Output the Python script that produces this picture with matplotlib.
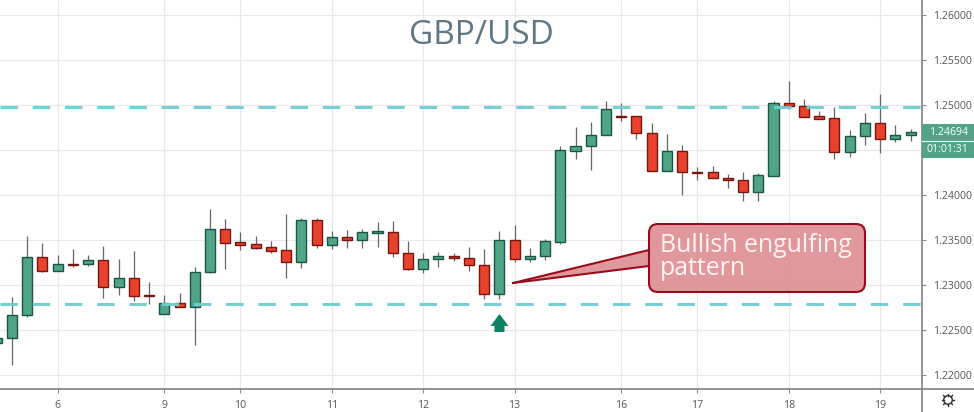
from matplotlib.colors import to_rgba
from matplotlib.lines import Line2D
from matplotlib.patches import Circle, FancyBboxPatch, Polygon, Rectangle
from matplotlib.transforms import Affine2D
import matplotlib.pyplot as plt
import numpy as np

plt.rcParams["font.family"] = ["Open Sans", "DejaVu Sans"]

WIDTH, HEIGHT = 974, 412

# first candle sits off the left edge of the chart
opens = [
    1.22356, 1.22408, 1.22667, 1.23308, 1.23159, 1.23232, 1.23230, 1.23278, 1.22981, 1.23074,
    1.22889, 1.22678, 1.22800, 1.22759, 1.23144, 1.23626, 1.23474, 1.23452, 1.23419, 1.23386,
    1.23252, 1.23722, 1.23448, 1.23530, 1.23503, 1.23578, 1.23592, 1.23352, 1.23178, 1.23286,
    1.23322, 1.23300, 1.23219, 1.22897, 1.23497, 1.23286, 1.23319, 1.23481, 1.24492, 1.24544,
    1.24663, 1.24874, 1.24874, 1.24686, 1.24263, 1.24486, 1.24256, 1.24252, 1.24189, 1.24167,
    1.24037, 1.24214, 1.25026, 1.24992, 1.24874, 1.24852, 1.24481, 1.24652, 1.24797, 1.24622,
    1.24663,
]
highs = [
    1.22411, 1.22863, 1.23544, 1.23463, 1.23333, 1.23400, 1.23337, 1.23433, 1.23292, 1.23378,
    1.23030, 1.22889, 1.22911, 1.23203, 1.23841, 1.23733, 1.23586, 1.23544, 1.23489, 1.23792,
    1.23748, 1.23748, 1.23600, 1.23611, 1.23619, 1.23703, 1.23714, 1.23489, 1.23359, 1.23367,
    1.23352, 1.23422, 1.23400, 1.23597, 1.23670, 1.23408, 1.23508, 1.24548, 1.24756, 1.24811,
    1.25048, 1.25019, 1.24874, 1.24797, 1.24678, 1.24552, 1.24311, 1.24322, 1.24233, 1.24252,
    1.24241, 1.25048, 1.25267, 1.25070, 1.24930, 1.24974, 1.24722, 1.24911, 1.25126, 1.24778,
    1.24730,
]
lows = [
    1.22356, 1.22111, 1.22648, 1.23148, 1.23159, 1.23197, 1.23214, 1.22856, 1.22889, 1.22826,
    1.22792, 1.22678, 1.22759, 1.22337, 1.23130, 1.23174, 1.23392, 1.23397, 1.23359, 1.23078,
    1.23192, 1.23414, 1.23400, 1.23411, 1.23408, 1.23426, 1.23314, 1.23167, 1.23133, 1.23203,
    1.23267, 1.23156, 1.22841, 1.22848, 1.23259, 1.23259, 1.23281, 1.23452, 1.24400, 1.24274,
    1.24663, 1.24822, 1.24626, 1.24263, 1.24263, 1.24000, 1.24170, 1.24186, 1.24074, 1.23933,
    1.23933, 1.24214, 1.24956, 1.24870, 1.24848, 1.24400, 1.24422, 1.24552, 1.24470, 1.24592,
    1.24603,
]
closes = [
    1.22411, 1.22670, 1.23308, 1.23159, 1.23233, 1.23226, 1.23278, 1.22981, 1.23074, 1.22881,
    1.22881, 1.22800, 1.22759, 1.23148, 1.23626, 1.23470, 1.23448, 1.23414, 1.23381, 1.23252,
    1.23722, 1.23448, 1.23530, 1.23500, 1.23586, 1.23597, 1.23352, 1.23178, 1.23289, 1.23319,
    1.23297, 1.23219, 1.22897, 1.23497, 1.23286, 1.23322, 1.23486, 1.24497, 1.24548, 1.24663,
    1.24952, 1.24867, 1.24686, 1.24263, 1.24486, 1.24252, 1.24248, 1.24186, 1.24163, 1.24033,
    1.24219, 1.25026, 1.24992, 1.24870, 1.24848, 1.24481, 1.24656, 1.24797, 1.24619, 1.24667,
    1.24697,
]

level_prices = [1.24983, 1.22789]
price_ticks = [1.22, 1.225, 1.23, 1.235, 1.24, 1.245, 1.25, 1.255, 1.26]
# 1.245 is hidden behind the last price tag
price_labels = ["1.22000", "1.22500", "1.23000", "1.23500", "1.24000", "", "1.25000", "1.25500", "1.26000"]
day_positions = [3, 10, 15, 21, 27, 33, 40, 45, 51, 57]
day_labels = ["6", "9", "10", "11", "12", "13", "16", "17", "18", "19"]
last_price = "1.24694"
countdown = "01:01:31"

GREEN = "#4fa585"
GREEN_EDGE = "#1a5645"
RED = "#e8412c"
RED_EDGE = "#741712"
WICK = "#666666"
AXIS = "#8a8a8a"
GRID = "#e8e8e8"
LABEL = "#555555"
LEVEL = "#6fcdd2"
CALLOUT = to_rgba("#dc8a8f", 0.88)
CALLOUT_EDGE = "#990c1b"

fig = plt.figure(figsize=(WIDTH / 100, HEIGHT / 100), dpi=100)
ax = fig.add_axes([0, 1 - 389 / HEIGHT, 922 / WIDTH, 389 / HEIGHT])

# reference pixels, origin top left, for everything stuck on top of the chart
px = Affine2D().scale(1 / WIDTH, -1 / HEIGHT).translate(0, 1) + fig.transFigure

x = np.arange(-1, len(opens) - 1)
o = np.array(opens)
c = np.array(closes)
up = c >= o

ax.vlines(x, lows, highs, color=WICK, linewidth=0.9, zorder=2)
ax.bar(x, np.abs(c - o), bottom=np.minimum(o, c), width=0.66,
       color=np.where(up, GREEN, RED), edgecolor=np.where(up, GREEN_EDGE, RED_EDGE),
       linewidth=1.0, zorder=3)

for price in level_prices:
    ax.plot([-0.788, 59.75], [price, price], color=LEVEL, linewidth=2.2, alpha=0.95,
            dashes=(5.7, 4.85), dash_capstyle="butt", zorder=4)

ax.set_xlim(-0.788, 59.75)
ax.set_ylim(1.25 - 284 / 9000, 1.25 + 105 / 9000)
ax.set_xticks(day_positions, day_labels)
ax.set_yticks(price_ticks, price_labels)
ax.yaxis.tick_right()
ax.grid(color=GRID, linewidth=0.9, zorder=0)
ax.set_axisbelow(True)
ax.tick_params(axis="both", length=3, width=0.8, color=AXIS, labelcolor=LABEL, labelsize=7.6)
ax.tick_params(axis="x", pad=5)
ax.tick_params(axis="y", pad=5)
for side in ["top", "left"]:
    ax.spines[side].set_visible(False)
for side in ["right", "bottom"]:
    ax.spines[side].set_color(AXIS)
    ax.spines[side].set_linewidth(1.3)

# axis lines run on through the corner to the figure edges
fig.add_artist(Line2D([922, 922], [389, 412], color=AXIS, linewidth=1.3, transform=px))
fig.add_artist(Line2D([922, 974], [389, 389], color=AXIS, linewidth=1.3, transform=px))

# last price tag
fig.add_artist(Rectangle((922, 124), 52, 34, facecolor=GREEN, edgecolor="none", transform=px, zorder=5))
fig.add_artist(Line2D([922, 974], [141, 141], color="white", linewidth=0.8, transform=px, zorder=6))
fig.text(949, 132.5, last_price, color="white", fontsize=7.6, ha="center", va="center", transform=px, zorder=7)
fig.text(947, 149.5, countdown, color="white", fontsize=7.6, ha="center", va="center", transform=px, zorder=7)

fig.text(481, 35, "GBP/USD", color="#5f7786", fontsize=24, ha="center", va="center", transform=px)

# callout: pointer fill first, then the box, then the two pointer edges
fig.add_artist(Polygon([(513, 283), (649, 250), (649, 266)], closed=True, facecolor=CALLOUT,
                       edgecolor="none", transform=px, zorder=5))
fig.add_artist(FancyBboxPatch((657, 232), 200, 52, boxstyle="round,pad=8,rounding_size=9",
                              facecolor=CALLOUT, edgecolor=CALLOUT_EDGE, linewidth=1.5,
                              transform=px, zorder=5))
fig.add_artist(Line2D([513, 649], [283, 250], color=CALLOUT_EDGE, linewidth=1.5, transform=px, zorder=6))
fig.add_artist(Line2D([513, 649], [283, 266], color=CALLOUT_EDGE, linewidth=1.5, transform=px, zorder=6))
fig.text(660, 245.5, "Bullish engulfing", color="#fff4f4", fontsize=17.9, ha="left", va="center", transform=px, zorder=7)
fig.text(660, 268.5, "pattern", color="#fff4f4", fontsize=17.9, ha="left", va="center", transform=px, zorder=7)

# up arrow under the engulfing candle
fig.add_artist(Polygon([(499.5, 314), (508.5, 326), (504.5, 326), (504.5, 332), (494.5, 332),
                        (494.5, 326), (490.5, 326)], closed=True, facecolor="#0b8261",
                       edgecolor="none", transform=px, zorder=5))

# settings gear
fig.add_artist(Circle((948, 400), 4.3, facecolor="white", edgecolor="#333333", linewidth=1.0, transform=px))
for angle in np.arange(0, 360, 45):
    dx, dy = np.cos(np.radians(angle)), np.sin(np.radians(angle))
    fig.add_artist(Line2D([948 + 4.3 * dx, 948 + 6.3 * dx], [400 + 4.3 * dy, 400 + 6.3 * dy],
                          color="#333333", linewidth=1.0, transform=px))

fig.savefig("out.png", dpi=100)
